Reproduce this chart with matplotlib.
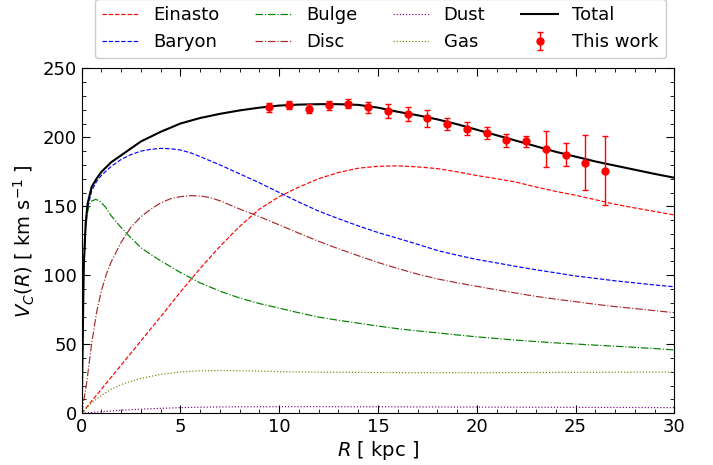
import numpy as np
import matplotlib
matplotlib.use("Agg")
import matplotlib.pyplot as plt
from matplotlib.ticker import MultipleLocator

# ---- curves (R in kpc, V in km/s)
r_tot = [0, 0.1, 0.2, 0.3, 0.5, 0.75, 1, 1.5, 2, 2.5, 3, 4, 5, 6, 7, 8, 9, 10, 11, 12, 13,
         14, 15, 16, 17, 18, 19, 20, 21, 22, 23, 24, 25, 26, 27, 28, 29, 30]
v_total = [0, 105, 138, 152, 164, 170, 175, 182, 187, 192, 197, 204, 210, 214, 217, 219.5,
           221.5, 223, 223.7, 224, 224, 223.5, 221.5, 218.5, 216, 213, 209.5, 205.5, 201.5,
           197.5, 193.5, 189.5, 186, 182.5, 179.5, 176.5, 173.5, 170.7]

r_bar = [0, 0.1, 0.2, 0.3, 0.5, 0.75, 1, 1.5, 2, 2.5, 3, 3.5, 4, 4.5, 5, 5.5, 6, 7, 8, 9, 10,
         11, 12, 13, 14, 15, 16, 17, 18, 19, 20, 21, 22, 23, 24, 25, 26, 27, 28, 29, 30]
v_baryon = [0, 102, 135, 149, 161, 168, 172.5, 179, 184, 187.5, 190, 191.3, 192, 191.7, 190.8,
            188.8, 186, 180, 173.5, 167, 160, 153, 146.5, 141, 135.8, 131, 126.8, 122.5, 118,
            114.6, 111.5, 109, 106.4, 104, 101.8, 99.5, 97.8, 96, 94.5, 93, 91.7]

r_ein = [0, 1, 2, 3, 4, 5, 6, 7, 8, 9, 10, 11, 12, 13, 14, 15, 16, 17, 18, 19, 20, 21, 22, 23,
         24, 25, 26, 27, 28, 29, 30]
v_einasto = [0, 17.5, 35, 52.5, 70, 88, 105, 121, 135.5, 148, 157, 164, 170, 174.5, 177.6, 179,
             179.3, 178.6, 177.3, 175, 172.3, 170, 167.5, 164, 160.8, 158, 154.8, 151.5, 148.8,
             146.3, 143.7]

r_disc = [0, 0.25, 0.5, 0.75, 1, 1.25, 1.5, 2, 2.5, 3, 3.5, 4, 4.5, 5, 5.5, 6, 6.5, 7, 8, 9, 10,
          11, 12, 13, 14, 15, 16, 17, 18, 19, 20, 21, 22, 23, 24, 25, 26, 27, 28, 29, 30]
v_disc = [0, 22, 50, 73, 89, 101, 110, 124, 135, 142.5, 148, 152.5, 155.5, 157, 157.7, 157.5,
          156.3, 154, 148, 142.5, 136.5, 130.5, 124.6, 119.2, 114.2, 109.3, 104.9, 100.9, 97.4,
          94.6, 92, 89.5, 87.1, 84.7, 82.7, 80.9, 79, 77.3, 75.9, 74.4, 72.9]

r_bulge = [0, 0.1, 0.2, 0.3, 0.4, 0.5, 0.7, 0.9, 1.2, 1.5, 2, 2.5, 3, 3.5, 4, 5, 6, 7, 8, 9, 10, 11,
           12, 13, 14, 15, 16, 17, 18, 19, 20, 21, 22, 23, 24, 25, 26, 27, 28, 29, 30]
v_bulge = [0, 104, 134, 146, 151.5, 153.8, 155, 154, 149.5, 143, 134.5, 127, 120, 115, 110.5, 102,
           94.5, 88.5, 83.5, 79.5, 76.2, 72.8, 69.7, 67.4, 65.3, 63.2, 61.3, 59.7, 58.3, 56.8,
           55.4, 54.2, 53, 52, 51, 50.2, 49.4, 48.6, 47.8, 46.9, 45.9]

r_gas = [0, 0.5, 1, 1.5, 2, 2.5, 3, 4, 5, 6, 7, 8, 9, 10, 12, 14, 16, 18, 20, 22, 24, 26, 28, 30]
v_gas = [0, 7.5, 13, 17.5, 20.8, 23.2, 25.3, 28.2, 30, 30.8, 31, 30.8, 30.5, 30.2, 29.8, 29.6,
         29.5, 29.4, 29.4, 29.5, 29.6, 29.7, 29.8, 29.9]

r_dust = [0, 1, 2, 3, 4, 5, 6, 7, 8, 10, 12, 15, 20, 25, 30]
v_dust = [0, 1.2, 2.2, 3.0, 3.6, 4.1, 4.4, 4.6, 4.7, 4.8, 4.8, 4.7, 4.5, 4.3, 4.1]

# ---- measured rotation curve
r_obs = [9.5, 10.5, 11.5, 12.5, 13.5, 14.5, 15.5, 16.5, 17.5, 18.5, 19.5, 20.5, 21.5, 22.5,
         23.5, 24.5, 25.5, 26.5]
v_obs = [221.7, 223.4, 220.8, 223.2, 224.4, 221.7, 219.1, 216.6, 213.7, 209.6, 206.2, 202.9,
         197.8, 197.1, 191.7, 187.4, 181.6, 175.8]
e_obs = [3.3, 3.1, 3.4, 3.4, 3.4, 4.0, 4.8, 5.0, 6.0, 4.2, 4.6, 4.3, 4.7, 4.0, 13.2, 8.2,
         19.8, 24.8]

fig = plt.figure(figsize=(7.13, 4.65), dpi=100)
ax = fig.add_axes([0.1146, 0.1112, 0.8311, 0.7419])

lw = 0.85
ax.plot(r_ein, v_einasto, color="red", ls="--", lw=lw, label="Einasto")
ax.plot(r_bar, v_baryon, color="blue", ls="--", lw=lw, label="Baryon")
ax.plot(r_bulge, v_bulge, color="green", ls="-.", lw=lw, label="Bulge")
ax.plot(r_disc, v_disc, color="brown", ls="-.", lw=lw, label="Disc")
ax.plot(r_dust, v_dust, color="purple", ls=":", lw=lw, label="Dust")
ax.plot(r_gas, v_gas, color="olive", ls=":", lw=lw, label="Gas")
ax.plot(r_tot, v_total, color="black", ls="-", lw=1.5, label="Total")
ax.errorbar(r_obs, v_obs, yerr=e_obs, fmt="o", color="red", ms=5, elinewidth=1,
            capsize=2.5, capthick=1, label="This work")

ax.set_xlim(0, 30)
ax.set_ylim(0, 250)
ax.xaxis.set_minor_locator(MultipleLocator(1))
ax.yaxis.set_minor_locator(MultipleLocator(10))
ax.tick_params(which="both", direction="in", top=True, right=True, labelsize=13)
ax.tick_params(which="major", length=6)
ax.tick_params(which="minor", length=3)
ax.set_xlabel(r"$R$ [ kpc ]", fontsize=14, labelpad=2)
ax.set_ylabel(r"$V_C(R)$ [ km s$^{-1}$ ]", fontsize=14, labelpad=4)

ax.legend(loc="lower center", bbox_to_anchor=(0.504, 1.029), ncol=4, fontsize=13,
          borderaxespad=0, framealpha=1)

fig.savefig("out.png", dpi=100)
